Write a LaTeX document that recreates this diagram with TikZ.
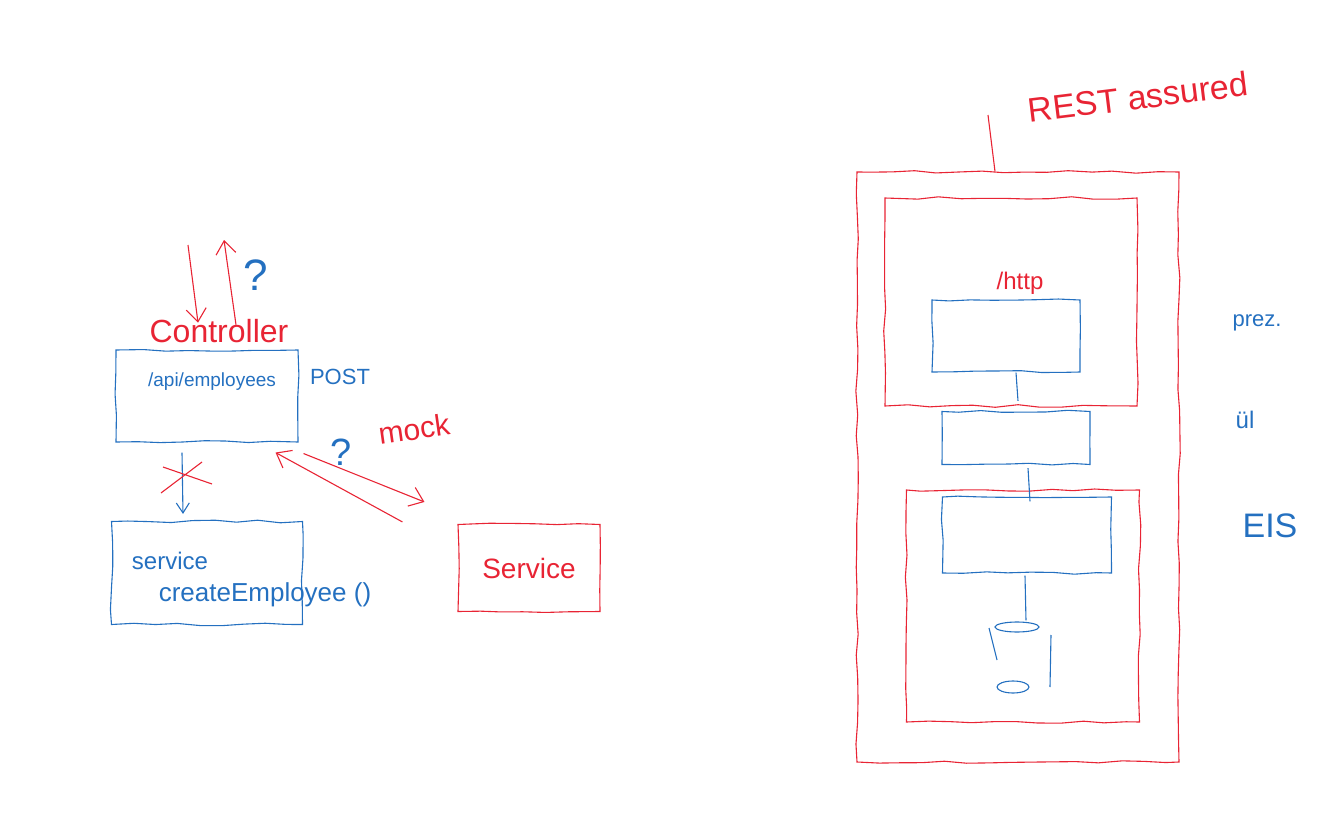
\documentclass[tikz,border=0pt]{standalone}
\usepackage{fontspec}
\setmainfont{Liberation Sans}
\usetikzlibrary{arrows.meta,decorations.pathmorphing}
\definecolor{penred}{RGB}{232,36,52}
\definecolor{penblue}{RGB}{36,112,192}
\newcommand\penfont[1]{\fontsize{#1}{#1}\selectfont}

\begin{document}
\begin{tikzpicture}[x=1pt,y=-1pt,line width=1.1pt,
  wobble/.style={decorate,decoration={random steps,segment length=22pt,amplitude=1.3pt}},
  redbox/.style={draw=penred,wobble,inner sep=0pt},
  bluebox/.style={draw=penblue,wobble,inner sep=0pt},
  redtext/.style={text=penred,inner sep=0pt},
  bluetext/.style={text=penblue,inner sep=0pt},
  barb/.style={-{Straight Barb[length=13pt,width=20pt]}}]
\pgfmathsetseed{7}
\useasboundingbox (0,0) rectangle (1318,824);

% left: controller test
\node[redtext,font=\penfont{32}] (ctrlname) at (219,331) {Controller};
\coordinate (reqtop) at (188,245);
\coordinate (resptop) at (224,240);
\draw[penred,barb] (reqtop) -- ([xshift=-21pt,yshift=-4pt]ctrlname.north);
\draw[penred,barb] ([xshift=17pt,yshift=-6pt]ctrlname.north) -- (resptop);
\node[bluetext,font=\penfont{44}] (ask) at (256,275) {?};

\node[bluebox,minimum width=182,minimum height=92] (ctrl) at (207,396) {};
\node[bluetext,font=\penfont{19}] (ctrlpath) at (212,382) {/api/employees};
\node[bluetext,font=\penfont{22}] (verb) at (340,377) {POST};

\node[bluebox,minimum width=191,minimum height=103] (svc) at (207,573) {};
\node[bluetext,font=\penfont{24}] (svcname) at (170,561) {service};
\node[bluetext,font=\penfont{26}] (svccall) at (265,595) {createEmployee ()};
\draw[penblue,-{Straight Barb[length=10pt,width=13pt]}]
  ([xshift=-25pt,yshift=-10pt]ctrl.south) -- ([xshift=-24pt,yshift=7pt]svc.north);
\coordinate (cross) at (186,477);
\draw[penred] ([shift={(-25,16)}]cross) -- ([shift={(16,-15)}]cross)
  ([shift={(-23,-10)}]cross) -- ([shift={(26,7)}]cross);

% mocked service
\node[redbox,minimum width=142,minimum height=87,font=\penfont{28},text=penred] (mock) at (529,568) {Service};
\draw[penred,barb] ([shift={(5,11)}]ctrl.south east) -- ([shift={(-33,-22)}]mock.north west);
\draw[penred,barb] ([shift={(-55,-2)}]mock.north west) -- ([shift={(-23,10)}]ctrl.south east);
\node[bluetext,font=\penfont{38}] (askmock) at (341,452) {?};
\node[redtext,font=\penfont{30},rotate=8] (mocklabel) at (414,429) {mock};

% right: REST assured layers
\node[redtext,font=\penfont{34},rotate=7] (restlabel) at (1138,97) {REST assured};
\node[redbox,minimum width=322,minimum height=590] (outer) at (1018,467) {};
\coordinate (restfoot) at (988,115);
\draw[penred] (restfoot) -- ([xshift=-23pt]outer.north);

\node[redbox,minimum width=252,minimum height=208] (webtier) at (1011,302) {};
\node[redtext,font=\penfont{24}] (http) at (1020,283) {/http};
\node[bluebox,minimum width=148,minimum height=72] (prezbox) at (1006,336) {};
\node[bluebox,minimum width=148,minimum height=53] (logicbox) at (1016,438) {};
\node[redbox,minimum width=233,minimum height=232] (eistier) at (1023,606) {};
\node[bluebox,minimum width=169,minimum height=76] (eisbox) at (1027,535) {};
\node[minimum width=62,minimum height=74,inner sep=0pt] (db) at (1020,655) {};

\draw[penblue] ([xshift=10pt]prezbox.south) -- ([xshift=2pt,yshift=10pt]logicbox.north);
\draw[penblue] ([xshift=12pt,yshift=-3pt]logicbox.south) -- ([xshift=3pt,yshift=-5pt]eisbox.north);
\draw[penblue] ([xshift=-2pt,yshift=-2pt]eisbox.south) -- ([xshift=6pt,yshift=-3pt]db.north);
\draw[penblue] ([shift={(-3,-28)}]db.center) ellipse [x radius=22,y radius=5]
  ([shift={(-31,-27)}]db.center) -- ([shift={(-23,5)}]db.center)
  ([shift={(31,-20)}]db.center) -- ([shift={(30,32)}]db.center)
  ([shift={(-7,32)}]db.center) ellipse [x radius=16,y radius=6];

\node[bluetext,font=\penfont{22}] (prez) at (1257,323) {prez.};
\node[bluetext,font=\penfont{24}] (ul) at (1245,420) {ül};
\node[bluetext,font=\penfont{34}] (eis) at (1270,526) {EIS};
\end{tikzpicture}
\end{document}
